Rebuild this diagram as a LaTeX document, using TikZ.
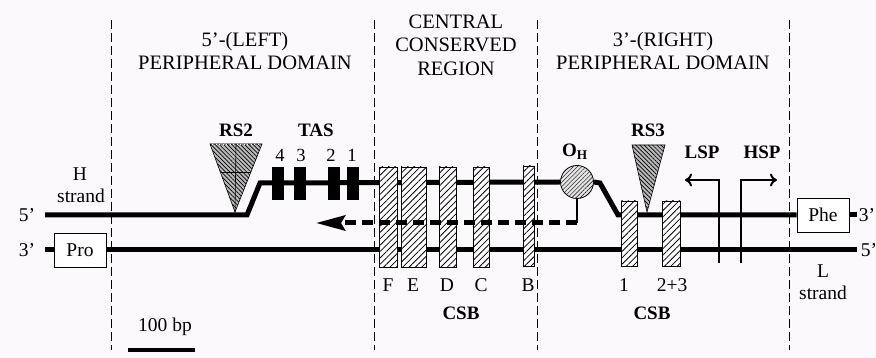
\documentclass[tikz,border=0pt]{standalone}
\usepackage{fontspec}
\setmainfont{Liberation Serif}
\usetikzlibrary{patterns.meta,arrows.meta,calc}
\definecolor{bg}{RGB}{252,249,252}
\begin{document}
\begin{tikzpicture}[x=1pt,y=-1pt,
  lbl/.style={font=\fontsize{19.5}{23}\selectfont, inner sep=0pt},
  blbl/.style={font=\fontsize{19}{22}\selectfont\bfseries, inner sep=0pt},
  numlbl/.style={font=\fontsize{18.5}{20}\selectfont, inner sep=0pt},
  titlelbl/.style={font=\fontsize{20.5}{23.5}\selectfont, align=center, inner sep=0pt},
  strandline/.style={line width=5pt},
  divider/.style={line width=0.9pt, dash pattern=on 9pt off 4pt},
  hbox/.style={draw, line width=0.8pt, fill=white, inner sep=0pt,
    postaction={pattern={Lines[angle=45,distance=4.5pt,line width=0.8pt]}}},
  tasbox/.style={fill=black, inner sep=0pt, minimum width=12pt, minimum height=33pt},
  endbox/.style={draw, line width=0.9pt, fill=white, inner sep=0pt, minimum width=52pt, minimum height=34pt, font=\fontsize{19.5}{23}\selectfont},
  rstri/.style={draw, line width=0.6pt, preaction={fill=gray!55},
    pattern={Lines[angle=-45,distance=3pt,line width=0.7pt]}},
  prom/.style={line width=2.5pt, -{To[length=7pt,width=13pt,line width=2pt]}},
]
\useasboundingbox[fill=bg] (0,0) rectangle (876,358);

% domain dividers
\foreach \x in {111,374,537,789}{
  \draw[divider] (\x,20) -- (\x,350);
}

% titles
\node[titlelbl] (tleft) at (245,51) {5'-(LEFT)\\PERIPHERAL DOMAIN};
\node[titlelbl] (tcent) at (456,45) {CENTRAL\\CONSERVED\\REGION};
\node[titlelbl] (tright) at (663,51) {3'-(RIGHT)\\PERIPHERAL DOMAIN};

% end labels
\node[lbl] (h5) at (27,215) {5'};
\node[lbl] (h3) at (27,250) {3'};
\node[lbl] (r3) at (867,215) {3'};
\node[lbl] (r5) at (869,250) {5'};
\node[lbl] (Hl) at (80,174) {H};
\node[lbl] (Hs) at (81,196) {strand};
\node[lbl] (Ll) at (823,271) {L};
\node[lbl] (Ls) at (823,293) {strand};

% boxes at ends
\node[endbox] (pro) at (80,250) {Pro};
\node[endbox] (phe) at (823,215) {Phe};

% O_H circle
\node[draw, circle, line width=0.8pt, minimum size=33pt, inner sep=0pt, fill=gray!22,
  postaction={pattern={Lines[angle=45,distance=3pt,line width=0.4pt]}}] (oh) at (577,182) {};

% coordinates of the strands
\coordinate (a0) at (45,215);
\coordinate (a1) at (247,215);
\coordinate (a2) at (260,183);
\coordinate (a3) at (600,183);
\coordinate (a4) at (618,215);
\coordinate (a5) at (857,215);
\coordinate (b0) at (45,250);
\coordinate (b5) at (857,250);

% H strand
\draw[strandline] (a0) -- (a1) -- (a2) -- (oh.west);
\draw[strandline] (oh.east) -- (a3) -- (a4) -- (phe.west);
\draw[strandline] (phe.east) -- (a5);
% L strand
\draw[strandline] (b0) -- (pro.west);
\draw[strandline] (pro.east) -- (b5);

% promoters
\coordinate (lspb) at (719,263);
\coordinate (lspt) at (719,180);
\coordinate (lspe) at (685,180);
\coordinate (hspb) at (741,263);
\coordinate (hspt) at (741,180);
\coordinate (hspe) at (777,180);
\draw[prom] (lspb) -- (lspt) -- (lspe);
\draw[prom] (hspb) -- (hspt) -- (hspe);
\node[blbl] (lsp) at (702,152) {LSP};
\node[blbl] (hsp) at (762,152) {HSP};

% TAS boxes
\node[tasbox] (t4) at (277.5,183.5) {};
\node[tasbox] (t3) at (299.5,183.5) {};
\node[tasbox] (t2) at (334,183.5) {};
\node[tasbox] (t1) at (353,183.5) {};
\node[numlbl] (n4) at (280,155) {4};
\node[numlbl] (n3) at (301,155) {3};
\node[numlbl] (n2) at (331,155) {2};
\node[numlbl] (n1) at (352,155) {1};
\node[blbl] (tas) at (316,130) {TAS};

% RS2
\coordinate (rs2l) at (210,144);
\coordinate (rs2r) at (262,144);
\coordinate (rs2a) at (235,212);
\draw[rstri] (rs2l) -- (rs2r) -- (rs2a) -- cycle;
\draw[line width=0.6pt] ($(rs2l)!0.5!(rs2r)$) -- (rs2a);
\draw[line width=0.6pt] ($(rs2l)!0.42!(rs2a)$) -- ($(rs2r)!0.42!(rs2a)$);
\draw[white, line width=1pt, dash pattern=on 1pt off 2.5pt] ($(rs2l)+(2,1)$) -- ($(rs2r)+(-2,1)$);
\node[blbl] (rs2) at (236,130) {RS2};

% RS3
\coordinate (rs3l) at (632,145);
\coordinate (rs3r) at (665,145);
\coordinate (rs3a) at (647,212);
\draw[rstri] (rs3l) -- (rs3r) -- (rs3a) -- cycle;
\node[blbl] (rs3) at (648,130) {RS3};

% O_H label
\node[blbl, anchor=base] (ohl) at (575,157) {O\textsubscript{H}};

% CSB boxes central
\node[hbox, minimum width=18pt, minimum height=100pt] (F) at (388,217) {};
\node[hbox, minimum width=25pt, minimum height=100pt] (E) at (413.5,217) {};
\node[hbox, minimum width=17pt, minimum height=100pt] (D) at (447.5,217) {};
\node[hbox, minimum width=16pt, minimum height=100pt] (C) at (481,217) {};
\node[hbox, minimum width=11pt, minimum height=100pt] (B) at (528.5,216) {};
\node[lbl] (Fl) at (388,285) {F};
\node[lbl] (El) at (413,285) {E};
\node[lbl] (Dl) at (447,285) {D};
\node[lbl] (Cl) at (481,285) {C};
\node[lbl] (Bl) at (528,285) {B};
\node[blbl] (csb1) at (461,313) {CSB};

% CSB boxes right
\node[hbox, minimum width=16pt, minimum height=65pt] (c1) at (629,233.5) {};
\node[hbox, minimum width=18pt, minimum height=65pt] (c23) at (671,233.5) {};
\node[lbl] (c1l) at (624,285) {1};
\node[lbl] (c23l) at (672,285) {2+3};
\node[blbl] (csb2) at (652,313) {CSB};

% replication direction (dashed arrow)
\coordinate (d0) at (oh.south |- 0,223);
\coordinate (dtip) at (316,223);
\draw[line width=1.8pt] (oh.south) -- (d0);
\draw[line width=5pt, dash pattern=on 11pt off 6pt,
  -{Stealth[length=29pt,width=15pt,inset=4pt]}] (d0) -- (dtip);

% scale bar
\node[lbl] (bp) at (165,327) {100 bp};
\coordinate (s0) at (128,350);
\coordinate (s1) at (195,350);
\draw[line width=4.5pt] (s0) -- (s1);
\end{tikzpicture}
\end{document}
